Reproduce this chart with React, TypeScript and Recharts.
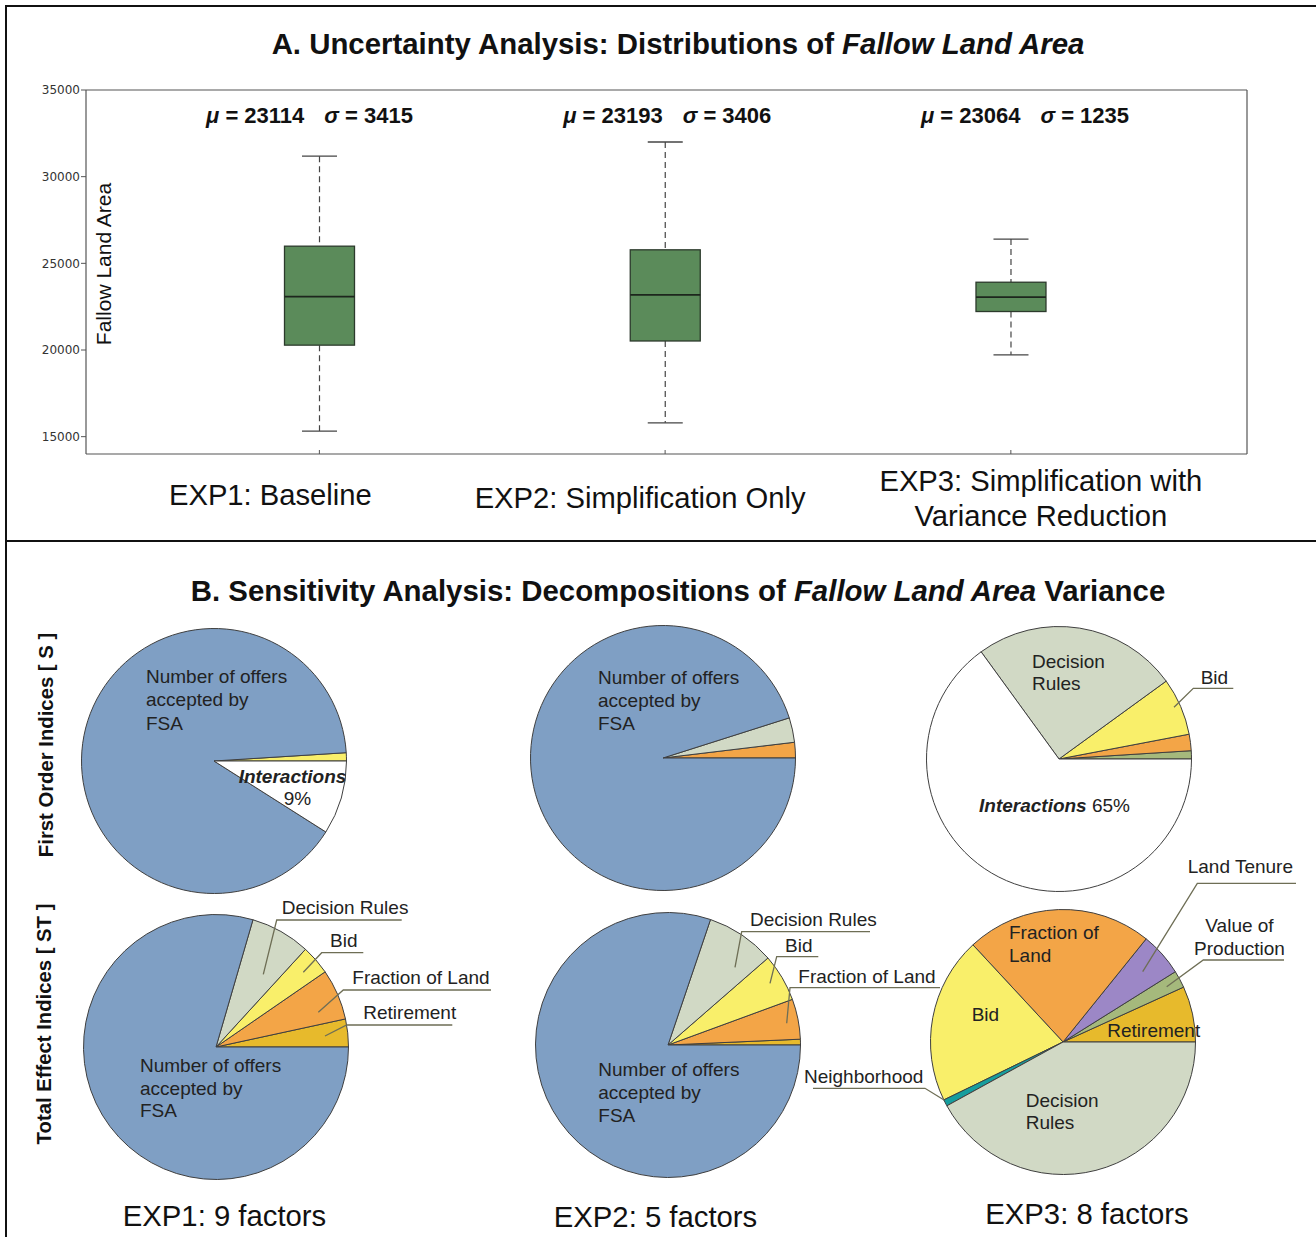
import React from 'react';
import { ComposedChart, Bar, XAxis, YAxis, PieChart, Pie, Cell } from 'recharts';

// ---------- Panel A data (box plots) ----------
const experiments = ['EXP1: Baseline', 'EXP2: Simplification Only', 'EXP3: Simplification with\nVariance Reduction'];
const positions = [1, 2, 3];
const whiskerLow = [15320, 15800, 19720];
const q1 = [20280, 20520, 22220];
const median = [23080, 23180, 23050];
const q3 = [25990, 25780, 23910];
const whiskerHigh = [31180, 32000, 26400];
const means = [23114, 23193, 23064];
const sigmas = [3415, 3406, 1235];
const yTicks = [15000, 20000, 25000, 30000, 35000];
const yDomain = [14000, 35000];
const xDomain = [0.325, 3.683];

// ---------- Panel B data (pies) ----------
const OFFERS = 'Number of offers accepted by FSA';
const s1Names = ['Bid', OFFERS, 'Interactions'];
const s1Values = [1, 90, 9];
const s2Names = ['Fraction of Land', 'Decision Rules', OFFERS];
const s2Values = [1.9, 3.0, 95.1];
const s3Names = ['Value of Production', 'Fraction of Land', 'Bid', 'Decision Rules', 'Interactions'];
const s3Values = [1, 2, 7, 25, 65];
const t1Names = ['Retirement', 'Fraction of Land', 'Bid', 'Decision Rules', OFFERS];
const t1Values = [3.4, 6.2, 3.6, 7.3, 79.5];
const t2Names = ['Retirement', 'Fraction of Land', 'Bid', 'Decision Rules', OFFERS];
const t2Values = [0.7, 4.9, 5.8, 8.4, 80.2];
const t3Names = ['Retirement', 'Value of Production', 'Land Tenure', 'Fraction of Land', 'Bid', 'Neighborhood', 'Decision Rules'];
const t3Values = [6.8, 2.1, 5.3, 22.7, 20.3, 0.8, 42.0];
const pieCaptions = ['EXP1: 9 factors', 'EXP2: 5 factors', 'EXP3: 8 factors'];

// ---------- styles / layout ----------
const FONT = '"Liberation Sans", Arial, Helvetica, sans-serif';
const COLORS: Record<string, string> = {
  [OFFERS]: '#7f9fc4',
  'Decision Rules': '#d1d9c5',
  Bid: '#f9ef6a',
  'Fraction of Land': '#f3a547',
  Retirement: '#e7ba2c',
  'Value of Production': '#a5b97c',
  'Land Tenure': '#9c87c6',
  Neighborhood: '#169e9e',
  Interactions: '#ffffff',
};
const LEADER = '#6e6e55';
const BOX_FILL = '#5b8b5a';
const STAT_BASELINE = 33080;
const STAT_DX = [-10, 2, 14];
const XLABEL_DX = [-49, -25, 30];
const XLABEL_Y = [495, 498, 481];
const PIE_FONT = 19;

type Seg = { t: string; em?: boolean };
type Spec = { x: number; y: number; lh?: number; anchor?: 'start' | 'middle'; lines: (string | Seg[])[]; lineDx?: number[]; leader?: number[][] };

const offersLines = ['Number of offers', 'accepted by', 'FSA'];

const LAY_S1: Record<string, Spec> = {
  [OFFERS]: { x: -68, y: -85, lh: 23.5, lines: offersLines },
  Interactions: { x: 78.5, y: 14.7, lh: 22.5, anchor: 'middle', lines: [[{ t: 'Interactions', em: true }], '9%'], lineDx: [0, 5] },
};
const LAY_S2: Record<string, Spec> = {
  [OFFERS]: { x: -65, y: -81, lh: 23, lines: offersLines },
};
const LAY_S3: Record<string, Spec> = {
  'Decision Rules': { x: -27, y: -97.3, lh: 22, lines: ['Decision', 'Rules'] },
  Bid: { x: 141.7, y: -81.7, lines: ['Bid'], leader: [[115, -51.7], [134.3, -70.7], [174.3, -70.7]] },
  Interactions: { x: -80, y: 46, lines: [[{ t: 'Interactions', em: true }, { t: ' 65%' }]] },
};
const LAY_T1: Record<string, Spec> = {
  'Decision Rules': { x: 65.7, y: -139.3, lines: ['Decision Rules'], leader: [[47.3, -72.7], [60.7, -127], [185.7, -127]] },
  Bid: { x: 114, y: -106.3, lines: ['Bid'], leader: [[87.3, -74.7], [105.7, -94.3], [147.3, -94.3]] },
  'Fraction of Land': { x: 136.3, y: -69.3, lines: ['Fraction of Land'], leader: [[102.3, -34.7], [127.3, -57], [275, -57]] },
  Retirement: { x: 147.3, y: -34.7, lines: ['Retirement'], leader: [[109, -11], [130.7, -22], [236.3, -22]] },
  [OFFERS]: { x: -76, y: 18.7, lh: 22.5, lines: offersLines },
};
const LAY_T2: Record<string, Spec> = {
  'Decision Rules': { x: 82, y: -125.7, lines: ['Decision Rules'], leader: [[67, -77.7], [73.7, -113.3], [202, -113.3]] },
  Bid: { x: 117, y: -100, lines: ['Bid'], leader: [[102, -61.7], [108.7, -88.3], [150.3, -88.3]] },
  'Fraction of Land': { x: 130.3, y: -69, lines: ['Fraction of Land'], leader: [[118.7, -21.7], [122, -57.3], [272, -57.3]] },
  [OFFERS]: { x: -69.7, y: 24.3, lh: 23.3, lines: offersLines },
};
const LAY_T3: Record<string, Spec> = {
  'Fraction of Land': { x: -54, y: -109.3, lh: 22.3, lines: ['Fraction of', 'Land'] },
  Bid: { x: -91.3, y: -28, lines: ['Bid'] },
  Retirement: { x: 44.3, y: -12, lines: ['Retirement'] },
  'Decision Rules': { x: -37.3, y: 58, lh: 22.3, lines: ['Decision', 'Rules'] },
  'Land Tenure': { x: 124.7, y: -175.3, lines: ['Land Tenure'], leader: [[79.7, -70.3], [134.3, -158.7], [233, -158.7]] },
  'Value of Production': { x: 176.5, y: -117, lh: 23.3, anchor: 'middle', lines: ['Value of', 'Production'], leader: [[103.7, -55.3], [140.3, -82], [221, -82]] },
  Neighborhood: { x: -259, y: 34.7, lines: ['Neighborhood'], leader: [[-250, 46.3], [-138, 46.3], [-119, 58]] },
};

const boxData = positions.map((pos, i) => ({
  pos,
  name: experiments[i],
  range: [whiskerLow[i], whiskerHigh[i]],
  low: whiskerLow[i],
  q1: q1[i],
  med: median[i],
  q3: q3[i],
  high: whiskerHigh[i],
  mean: means[i],
  sigma: sigmas[i],
}));

const mk = (names: string[], values: number[]) => names.map((name, i) => ({ name, value: values[i] }));

const PIES = [
  { data: mk(s1Names, s1Values), lay: LAY_S1, cx: 214, cy: 220 },
  { data: mk(s2Names, s2Values), lay: LAY_S2, cx: 663, cy: 217 },
  { data: mk(s3Names, s3Values), lay: LAY_S3, cx: 1059, cy: 218 },
  { data: mk(t1Names, t1Values), lay: LAY_T1, cx: 216, cy: 506 },
  { data: mk(t2Names, t2Values), lay: LAY_T2, cx: 668, cy: 504 },
  { data: mk(t3Names, t3Values), lay: LAY_T3, cx: 1063, cy: 501 },
];

function BoxShape(props: any) {
  const { x, y, width, height, payload, index } = props;
  const top = Math.min(y, y + height);
  const h = Math.abs(height);
  const hi = payload.high;
  const lo = payload.low;
  const py = (v: number) => top + ((hi - v) / (hi - lo)) * h;
  const cx = x + width / 2;
  const cap = width / 4;
  return (
    <g>
      <line x1={cx} x2={cx} y1={py(hi)} y2={py(payload.q3)} stroke="#444" strokeWidth={1.2} strokeDasharray="6 4" />
      <line x1={cx} x2={cx} y1={py(payload.q1)} y2={py(lo)} stroke="#444" strokeWidth={1.2} strokeDasharray="6 4" />
      <line x1={cx - cap} x2={cx + cap} y1={py(hi)} y2={py(hi)} stroke="#444" strokeWidth={1.3} />
      <line x1={cx - cap} x2={cx + cap} y1={py(lo)} y2={py(lo)} stroke="#444" strokeWidth={1.3} />
      <rect x={x} y={py(payload.q3)} width={width} height={py(payload.q1) - py(payload.q3)} fill={BOX_FILL} stroke="#2c3a2c" strokeWidth={1.3} />
      <line x1={x} x2={x + width} y1={py(payload.med)} y2={py(payload.med)} stroke="#1d261d" strokeWidth={1.6} />
      <text x={cx + STAT_DX[index]} y={py(STAT_BASELINE)} textAnchor="middle" fontFamily={FONT} fontWeight="bold" fontSize={22} fill="#111">
        <tspan fontStyle="italic">μ</tspan>
        {' = ' + payload.mean}
        <tspan dx={20} fontStyle="italic">σ</tspan>
        {' = ' + payload.sigma}
      </text>
    </g>
  );
}

function CategoryTick(props: any) {
  const { x, payload } = props;
  const i = positions.indexOf(payload.value);
  if (i < 0) return <g />;
  const lines = experiments[i].split('\n');
  return (
    <g>
      {lines.map((l, k) => (
        <text key={k} x={x + XLABEL_DX[i]} y={XLABEL_Y[i] + k * 35} textAnchor="middle" dominantBaseline="central" fontSize={29.2} fontFamily={FONT} fill="#111">
          {l}
        </text>
      ))}
    </g>
  );
}

function renderSpec(cx: number, cy: number, spec: Spec) {
  return (
    <g>
      {spec.leader && (
        <polyline points={spec.leader.map(([a, b]) => `${cx + a},${cy + b}`).join(' ')} fill="none" stroke={LEADER} strokeWidth={1.3} />
      )}
      {spec.lines.map((ln, i) => (
        <text
          key={i}
          x={cx + spec.x + (spec.lineDx ? spec.lineDx[i] : 0)}
          y={cy + spec.y + i * (spec.lh ?? 22.5)}
          textAnchor={spec.anchor ?? 'start'}
          dominantBaseline="central"
          fontFamily={FONT}
          fontSize={PIE_FONT}
          fill="#222"
          stroke="none"
        >
          {typeof ln === 'string'
            ? ln
            : ln.map((s, j) => (
                <tspan key={j} fontWeight={s.em ? 'bold' : undefined} fontStyle={s.em ? 'italic' : undefined}>
                  {s.t}
                </tspan>
              ))}
        </text>
      ))}
    </g>
  );
}

const makeLabel = (lay: Record<string, Spec>) => (props: any) => {
  const name = props.name ?? props.payload?.name;
  const spec = lay[name];
  if (!spec) return <g />;
  return renderSpec(props.cx, props.cy, spec);
};

export default function App() {
  return (
    <div style={{ position: 'absolute', left: 0, top: 0, width: 1316, height: 1237, background: '#fff', overflow: 'hidden' }}>
      <div style={{ position: 'absolute', left: 5, top: 5, width: 1311, height: 2, background: '#111' }} />
      <div style={{ position: 'absolute', left: 5, top: 5, width: 2, height: 1232, background: '#111' }} />
      <div style={{ position: 'absolute', left: 5, top: 540, width: 1311, height: 2, background: '#111' }} />
      <svg style={{ position: 'absolute', left: 0, top: 0 }} width={1316} height={1237}>
        <text x={678} y={54} textAnchor="middle" fontFamily={FONT} fontWeight="bold" fontSize={29.4} fill="#111">
          A. Uncertainty Analysis: Distributions of <tspan fontStyle="italic">Fallow Land Area</tspan>
        </text>
        <text x={103} y={264} transform="rotate(-90 103 264)" textAnchor="middle" dominantBaseline="central" fontFamily={FONT} fontSize={21} fill="#111">
          Fallow Land Area
        </text>
        <text x={678} y={601} textAnchor="middle" fontFamily={FONT} fontWeight="bold" fontSize={29.4} fill="#111">
          B. Sensitivity Analysis: Decompositions of <tspan fontStyle="italic">Fallow Land Area</tspan> Variance
        </text>
        <text x={46} y={745} transform="rotate(-90 46 745)" textAnchor="middle" dominantBaseline="central" fontFamily={FONT} fontWeight="bold" fontSize={20.3} fill="#111">
          First Order Indices [ S ]
        </text>
        <text x={44} y={1024} transform="rotate(-90 44 1024)" textAnchor="middle" dominantBaseline="central" fontFamily={FONT} fontWeight="bold" fontSize={20.3} fill="#111">
          Total Effect Indices [ ST ]
        </text>
        {pieCaptions.map((c, i) => (
          <text key={c} x={[224.5, 655.5, 1087][i]} y={[1215, 1216, 1213][i]} textAnchor="middle" dominantBaseline="central" fontFamily={FONT} fontSize={29.3} fill="#111">
            {c}
          </text>
        ))}
      </svg>
      <div style={{ position: 'absolute', left: 0, top: 0 }}>
        <ComposedChart width={1316} height={541} data={boxData} margin={{ top: 90, right: 69, bottom: 87, left: 26 }}>
          <XAxis
            xAxisId="b"
            dataKey="pos"
            type="number"
            domain={xDomain}
            ticks={positions}
            allowDataOverflow
            interval={0}
            height={60}
            mirror
            tickSize={4}
            axisLine={{ stroke: '#555', strokeWidth: 1.2 }}
            tickLine={{ stroke: '#555' }}
            tick={(p: any) => <CategoryTick {...p} />}
          />
          <XAxis
            xAxisId="t"
            orientation="top"
            dataKey="pos"
            type="number"
            domain={xDomain}
            ticks={positions}
            allowDataOverflow
            interval={0}
            height={1}
            mirror
            tickSize={4}
            axisLine={{ stroke: '#555', strokeWidth: 1.2 }}
            tickLine={{ stroke: '#555' }}
            tick={false}
          />
          <YAxis
            yAxisId="l"
            type="number"
            domain={yDomain}
            ticks={yTicks}
            allowDataOverflow
            interval={0}
            width={60}
            tickSize={5}
            tickMargin={1}
            axisLine={{ stroke: '#555', strokeWidth: 1.2 }}
            tickLine={{ stroke: '#555' }}
            tick={{ fontSize: 12, fill: '#333', fontFamily: '"DejaVu Sans", sans-serif' }}
          />
          <YAxis
            yAxisId="r"
            orientation="right"
            type="number"
            domain={yDomain}
            ticks={yTicks}
            allowDataOverflow
            interval={0}
            width={1}
            mirror
            tickSize={4}
            axisLine={{ stroke: '#555', strokeWidth: 1.2 }}
            tickLine={{ stroke: '#555' }}
            tick={false}
          />
          <Bar xAxisId="b" yAxisId="l" dataKey="range" barSize={70} shape={(p: any) => <BoxShape {...p} />} isAnimationActive={false} />
        </ComposedChart>
      </div>
      <div style={{ position: 'absolute', left: 0, top: 541 }}>
        <PieChart width={1316} height={696} margin={{ top: 0, right: 0, bottom: 0, left: 0 }}>
          {PIES.map((p, k) => (
            <Pie
              key={k}
              data={p.data}
              dataKey="value"
              nameKey="name"
              cx={p.cx}
              cy={p.cy}
              outerRadius={132.5}
              startAngle={0}
              endAngle={360}
              stroke="#3f3f3f"
              strokeWidth={1}
              isAnimationActive={false}
              labelLine={false}
              label={makeLabel(p.lay)}
            >
              {p.data.map((d) => (
                <Cell key={d.name} fill={COLORS[d.name]} />
              ))}
            </Pie>
          ))}
        </PieChart>
      </div>
    </div>
  );
}
